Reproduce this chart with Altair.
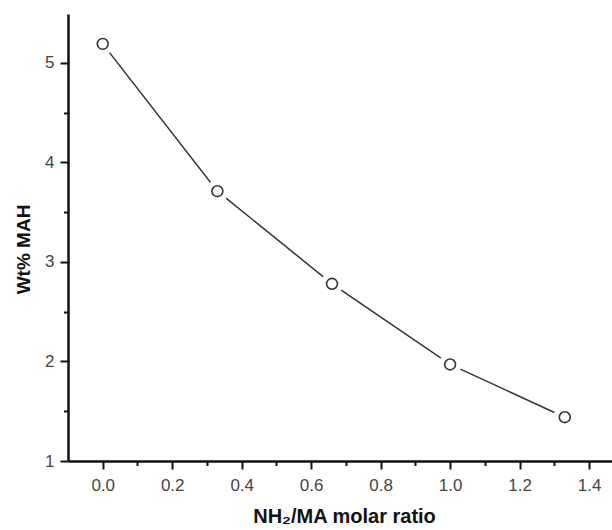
import altair as alt
import pandas as pd

ratio = [0.0, 0.33, 0.66, 1.0, 1.33]
wt_mah = [5.19, 3.71, 2.78, 1.97, 1.44]

x_major = [0.0, 0.2, 0.4, 0.6, 0.8, 1.0, 1.2, 1.4]
x_minor = [0.1, 0.3, 0.5, 0.7, 0.9, 1.1, 1.3]
y_major = [1, 2, 3, 4, 5]
y_minor = [1.5, 2.5, 3.5, 4.5]

df = pd.DataFrame({"ratio": ratio, "wt": wt_mah})

FONT = "Liberation Sans"
xs = alt.Scale(domain=[-0.1, 1.466], nice=False, zero=False)
ys = alt.Scale(domain=[1, 5.49], nice=False, zero=False)

x_major_axis = alt.Axis(
    values=x_major, format=".1f", orient="bottom", tickSize=8, tickWidth=2,
    tickColor="#111", domainColor="#111", domainWidth=2.5,
    labelFont=FONT, labelFontSize=17, labelColor="#444", labelPadding=8,
    title="NH₂/MA molar ratio", titleFont=FONT, titleFontSize=20,
    titleFontWeight="bold", titleColor="#111", titleX=276, titleY=61,
    titleBaseline="alphabetic", grid=False,
)
y_major_axis = alt.Axis(
    values=y_major, format="d", orient="left", tickSize=8, tickWidth=2,
    tickColor="#111", domainColor="#111", domainWidth=2.5,
    labelFont=FONT, labelFontSize=17, labelColor="#444", labelPadding=6,
    title="Wt% MAH", titleFont=FONT, titleFontSize=19, titleFontWeight="bold",
    titleColor="#111", titleX=-39, titleY=235, titleBaseline="alphabetic",
    titleAngle=-90, grid=False,
)
x_minor_axis = alt.Axis(
    values=x_minor, orient="bottom", tickSize=4.5, tickWidth=2, tickColor="#111",
    labels=False, domain=False, title=None, grid=False,
)
y_minor_axis = alt.Axis(
    values=y_minor, orient="left", tickSize=4.5, tickWidth=2, tickColor="#111",
    labels=False, domain=False, title=None, grid=False,
)

base = alt.Chart(df)

line = base.mark_line(color="#333", strokeWidth=1.5).encode(
    x=alt.X("ratio:Q", scale=xs, axis=x_major_axis),
    y=alt.Y("wt:Q", scale=ys, axis=y_major_axis),
)
minor = base.mark_point(opacity=0).encode(
    x=alt.X("ratio:Q", scale=xs, axis=x_minor_axis),
    y=alt.Y("wt:Q", scale=ys, axis=y_minor_axis),
)
halo = base.mark_point(
    shape="circle", filled=True, fill="white", stroke="white", strokeWidth=1,
    fillOpacity=1, opacity=1, size=480,
).encode(
    x=alt.X("ratio:Q", scale=xs, axis=None),
    y=alt.Y("wt:Q", scale=ys, axis=None),
)
pts = base.mark_point(
    shape="circle", filled=False, color="#333", strokeWidth=1.6, size=118, opacity=1
).encode(
    x=alt.X("ratio:Q", scale=xs, axis=None),
    y=alt.Y("wt:Q", scale=ys, axis=None),
)

chart = (
    alt.layer(line, minor, halo, pts)
    .resolve_axis(x="independent", y="independent")
    .properties(
        width=544, height=447,
        autosize=alt.AutoSizeParams(type="none"),
        padding={"left": 68, "top": 14, "right": 0, "bottom": 69},
        background="white",
    )
    .configure_view(stroke=None)
)

chart.save("out.html", embed_options={"renderer": "svg", "actions": False})
